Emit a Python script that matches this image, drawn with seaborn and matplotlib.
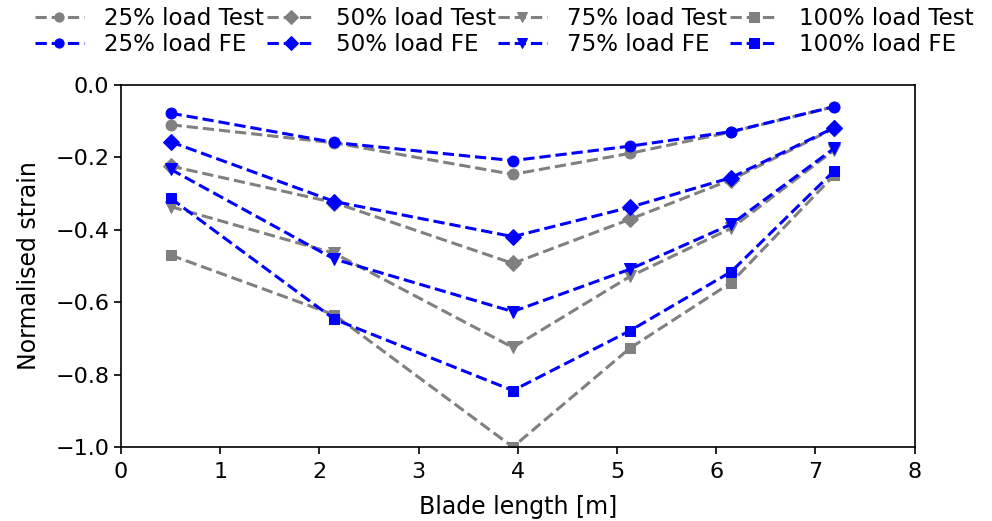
import matplotlib
matplotlib.use("Agg")
import matplotlib.pyplot as plt
import seaborn as sns
import pandas as pd

blade_length = [0.50, 2.15, 3.95, 5.13, 6.15, 7.19]

test_25 = [-0.110, -0.160, -0.247, -0.189, -0.130, -0.060]
test_50 = [-0.224, -0.325, -0.493, -0.371, -0.262, -0.120]
test_75 = [-0.336, -0.465, -0.725, -0.529, -0.396, -0.180]
test_100 = [-0.470, -0.635, -1.000, -0.727, -0.546, -0.249]

fe_25 = [-0.078, -0.159, -0.209, -0.169, -0.129, -0.060]
fe_50 = [-0.157, -0.322, -0.419, -0.338, -0.256, -0.118]
fe_75 = [-0.233, -0.481, -0.626, -0.509, -0.385, -0.175]
fe_100 = [-0.313, -0.647, -0.844, -0.679, -0.516, -0.237]

loads = ["25%", "50%", "75%", "100%"]
markers = ["o", "D", "v", "s"]

sns.set_style("ticks", {"text.color": "black", "axes.labelcolor": "black",
                        "xtick.color": "black", "ytick.color": "black",
                        "axes.edgecolor": "black"})
plt.rcParams['font.family'] = ['DejaVu Sans']

FS = 16

fig = plt.figure(figsize=(9.92, 5.21), dpi=100)
ax = fig.add_axes([0.122, 0.142, 0.800, 0.695])

tests = [test_25, test_50, test_75, test_100]
fes = [fe_25, fe_50, fe_75, fe_100]
ms = [7.8, 7.8, 8.3, 7.8]
for load, mk, t, f, m in zip(loads, markers, tests, fes, ms):
    df_t = pd.DataFrame({"x": blade_length, "y": t})
    df_f = pd.DataFrame({"x": blade_length, "y": f})
    sns.lineplot(data=df_t, x="x", y="y", ax=ax, color="grey", linestyle="--",
                 marker=mk, markersize=m, markeredgecolor="grey", linewidth=2.2,
                 label=f"{load} load Test", dashes=False)
    sns.lineplot(data=df_f, x="x", y="y", ax=ax, color="blue", linestyle="--",
                 marker=mk, markersize=m, markeredgecolor="blue", linewidth=2.2,
                 label=f"{load} load FE", dashes=False)

for line in ax.get_lines():
    line.set_linestyle("--")

ax.set_xlim(0, 8)
ax.set_ylim(-1.0, 0.0)
ax.set_xticks(range(0, 9))
ax.set_yticks([-1.0, -0.8, -0.6, -0.4, -0.2, 0.0])
ax.set_yticklabels(["\u22121.0", "\u22120.8", "\u22120.6", "\u22120.4", "\u22120.2", "0.0"])
ax.tick_params(labelsize=FS, length=5, width=1.2, direction="out", colors="black")
ax.tick_params(axis="x", pad=6)
ax.set_xlabel("Blade length [m]", fontsize=17, color="black", labelpad=9)
ax.set_ylabel("Normalised strain", fontsize=17, color="black", labelpad=10)
for s in ax.spines.values():
    s.set_visible(True)
    s.set_linewidth(1.2)
    s.set_color("black")

handles, labels = ax.get_legend_handles_labels()
leg = ax.legend(handles, labels, ncol=4, loc="lower center", bbox_to_anchor=(0.483, 1.0),
                frameon=False, fontsize=16.6, columnspacing=0.1, handletextpad=0.9,
                labelspacing=0.15, borderaxespad=0.85, handlelength=2.1, markerscale=0.85)
for txt in leg.get_texts():
    txt.set_color("black")

fig.savefig("out.png", dpi=100)
